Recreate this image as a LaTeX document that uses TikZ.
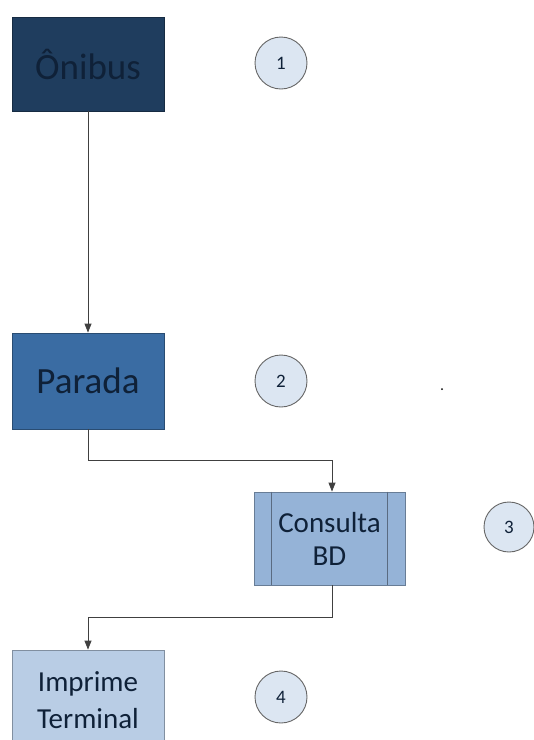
\documentclass[tikz,border=0pt]{standalone}
\usepackage{fontspec}
\setmainfont{Carlito}
\usetikzlibrary{arrows.meta}
\definecolor{navy}{HTML}{1F3D5E}
\definecolor{steel}{HTML}{3A6CA3}
\definecolor{midblue}{HTML}{95B3D7}
\definecolor{lightblue}{HTML}{B9CDE5}
\definecolor{circfill}{HTML}{DCE6F2}
\definecolor{txt}{HTML}{0F2138}
\definecolor{edge}{HTML}{404040}
\tikzset{
  box/.style={draw=#1!70!black, line width=0.8pt, minimum width=152pt, minimum height=94pt, align=center, inner sep=0pt, text=txt},
  num/.style={circle, draw=edge!80, line width=0.9pt, fill=circfill, minimum size=52pt, inner sep=0pt, font=\fontsize{19}{21}\selectfont, text=txt},
  conn/.style={draw=edge, line width=0.8pt, -{Triangle[length=9pt,width=7pt]}},
}
\begin{document}
\begin{tikzpicture}[x=1pt,y=-1pt]
\useasboundingbox (0,0) rectangle (534,740);
\node[box=navy, fill=navy, font=\fontsize{37}{40}\selectfont] (onibus) at (88,64) {Ônibus};
\node[box=steel, fill=steel, minimum height=96pt, font=\fontsize{37}{40}\selectfont] (parada) at (88,381) {Parada};
\node[box=midblue, fill=midblue, minimum width=151pt, minimum height=93pt, font=\fontsize{29}{33}\selectfont] (consulta) at (329.5,538.5) {Consulta\\BD};
\draw[midblue!60!black, line width=0.8pt] ([xshift=18pt]consulta.north west) -- ([xshift=18pt]consulta.south west);
\draw[midblue!60!black, line width=0.8pt] ([xshift=-18pt]consulta.north east) -- ([xshift=-18pt]consulta.south east);
\node[box=lightblue, fill=lightblue, minimum height=100pt, font=\fontsize{29}{37}\selectfont] (imprime) at (88,700) {Imprime\\Terminal};
\node[num] (n1) at (281,63) {1};
\node[num] (n2) at (281,381) {2};
\node[num, minimum size=50pt] (n3) at (509,527) {3};
\node[num] (n4) at (281,697) {4};
\node[circle, fill=black, inner sep=0pt, minimum size=2pt] (dot) at (442,389) {};
\draw[conn] (onibus.south) -- (parada.north);
\coordinate (b1) at (88,460);
\coordinate (b2) at (332,460);
\draw[conn] (parada.south) -- (b1) -- (b2) -- (b2 |- consulta.north);
\coordinate (c1) at (332,617);
\coordinate (c2) at (88,617);
\draw[conn] (c1 |- consulta.south) -- (c1) -- (c2) -- (imprime.north);
\end{tikzpicture}
\end{document}
